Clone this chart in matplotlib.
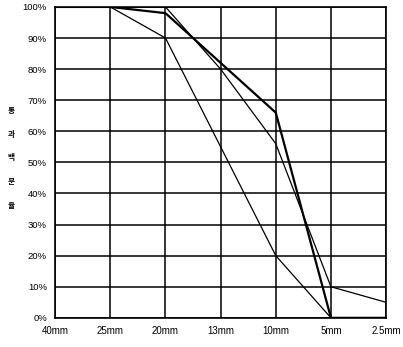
import matplotlib
matplotlib.use("Agg")
import matplotlib.pyplot as plt

categories = ["40mm", "25mm", "20mm", "13mm", "10mm", "5mm", "2.5mm"]
series_a = [100, 100, 98, 82, 66, 0, 0]
series_b = [100, 100, 90, 55, 20, 0, 0]
series_c = [100, 100, 100, 80, 56, 10, 5]
yticks = [0, 10, 20, 30, 40, 50, 60, 70, 80, 90, 100]
ylabel_text = "통\n과\n백\n분\n율"

fig = plt.figure(figsize=(4.03, 3.47), dpi=100)
ax = fig.add_axes([0.137, 0.084, 0.821, 0.896])
x = list(range(len(categories)))

ax.plot(x, series_b, color="black", lw=0.9)
ax.plot(x, series_c, color="black", lw=0.9)
ax.plot(x, series_a, color="black", lw=1.6)

ax.set_xlim(0, len(categories) - 1)
ax.set_ylim(0, 100)
ax.set_xticks(x)
ax.set_xticklabels(categories, family="Liberation Sans", fontsize=7)
ax.set_yticks(yticks)
ax.set_yticklabels([f"{v}%" for v in yticks], family="Liberation Sans", fontsize=6.8)
ax.tick_params(length=0, pad=6)
ax.grid(True, color="black", lw=1.1)
for s in ax.spines.values():
    s.set_linewidth(1.2)
    s.set_color("black")

fig.text(0.027, 0.545, ylabel_text, family=["Noto Sans CJK KR", "DejaVu Sans"],
         fontsize=5.5, ha="center", va="center", linespacing=3.1, fontweight="bold")

fig.savefig("out.png", dpi=100)
